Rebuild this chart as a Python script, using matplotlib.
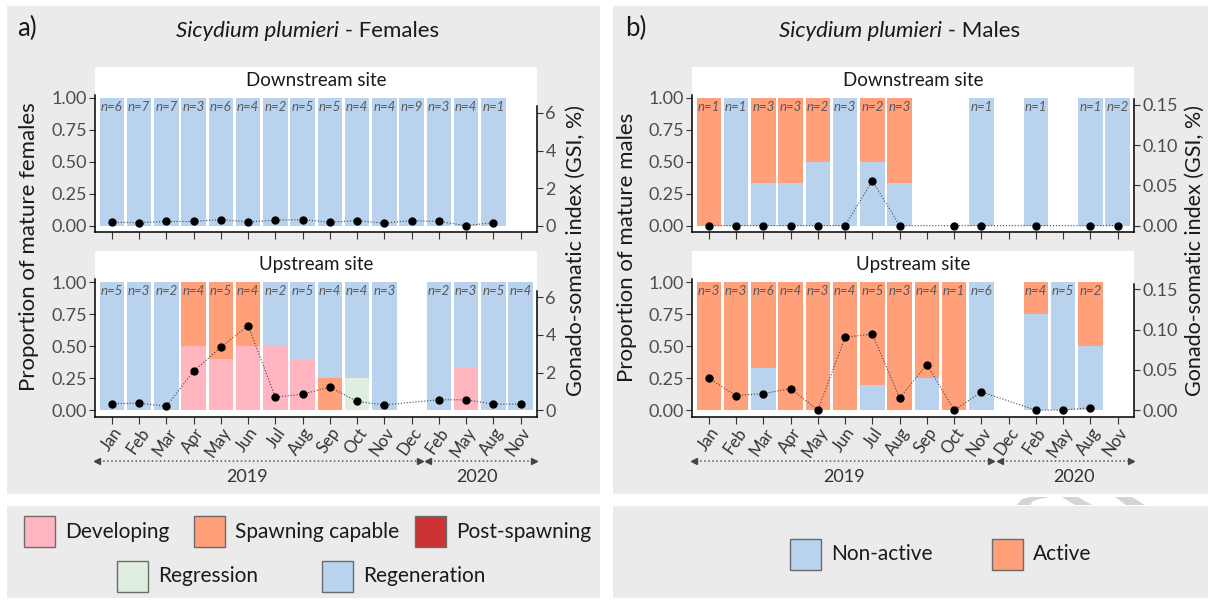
import numpy as np
import matplotlib.pyplot as plt
from matplotlib.patches import Rectangle, Polygon
from matplotlib.transforms import blended_transform_factory

plt.rcParams['font.family'] = ['Lato', 'DejaVu Sans']

nan = np.nan
months = ['Jan', 'Feb', 'Mar', 'Apr', 'May', 'Jun', 'Jul', 'Aug', 'Sep', 'Oct', 'Nov', 'Dec',
          'Feb', 'May', 'Aug', 'Nov']

# females, stages stacked bottom -> top
stages = ['Developing', 'Spawning capable', 'Post-spawning', 'Regression', 'Regeneration']
stage_colors = ['#FFB6C1', '#FFA07A', '#CD3333', '#E0EEE0', '#B9D3EE']

fd_dev = [0, 0, 0, 0, 0, 0, 0, 0, 0, 0, 0, 0, 0, 0, 0, 0]
fd_spawn = [0, 0, 0, 0, 0, 0, 0, 0, 0, 0, 0, 0, 0, 0, 0, 0]
fd_post = [0, 0, 0, 0, 0, 0, 0, 0, 0, 0, 0, 0, 0, 0, 0, 0]
fd_regr = [0, 0, 0, 0, 0, 0, 0, 0, 0, 0, 0, 0, 0, 0, 0, 0]
fd_regen = [1, 1, 1, 1, 1, 1, 1, 1, 1, 1, 1, 1, 1, 1, 1, 0]
fd_n = [6, 7, 7, 3, 6, 4, 2, 5, 5, 4, 4, 9, 3, 4, 1, nan]
fd_gsi = [0.18, 0.16, 0.22, 0.22, 0.32, 0.20, 0.29, 0.32, 0.18, 0.27, 0.13, 0.27, 0.22, 0.0, 0.16, nan]

fu_dev = [0, 0, 0, 0.5, 0.4, 0.5, 0.5, 0.4, 0, 0, 0, 0, 0, 0.333, 0, 0]
fu_spawn = [0, 0, 0, 0.5, 0.6, 0.5, 0, 0, 0.25, 0, 0, 0, 0, 0, 0, 0]
fu_post = [0, 0, 0, 0, 0, 0, 0, 0, 0, 0, 0, 0, 0, 0, 0, 0]
fu_regr = [0, 0, 0, 0, 0, 0, 0, 0, 0, 0.25, 0, 0, 0, 0, 0, 0]
fu_regen = [1, 1, 1, 0, 0, 0, 0.5, 0.6, 0.75, 0.75, 1, 0, 1, 0.667, 1, 1]
fu_n = [5, 3, 2, 4, 5, 4, 2, 5, 4, 4, 3, nan, 2, 3, 5, 4]
fu_gsi = [0.35, 0.37, 0.21, 2.07, 3.35, 4.5, 0.69, 0.85, 1.22, 0.46, 0.28, nan, 0.55, 0.55, 0.32, 0.32]

# males, bottom -> top
mstages = ['Non-active', 'Active']
mstage_colors = ['#B9D3EE', '#FFA07A']

md_non = [0, 1, 0.333, 0.333, 0.5, 1, 0.5, 0.333, 0, 0, 1, 0, 1, 0, 1, 1]
md_act = [1, 0, 0.667, 0.667, 0.5, 0, 0.5, 0.667, 0, 0, 0, 0, 0, 0, 0, 0]
md_n = [1, 1, 3, 3, 2, 3, 2, 3, nan, nan, 1, nan, 1, nan, 1, 2]
md_gsi = [0, 0, 0, 0, 0, 0, 0.0557, 0, nan, 0, 0, nan, 0, nan, 0, 0]

mu_non = [0, 0, 0.333, 0, 0, 0, 0.2, 0, 0.25, 0, 1, 0, 0.75, 1, 0.5, 0]
mu_act = [1, 1, 0.667, 1, 1, 1, 0.8, 1, 0.75, 1, 0, 0, 0.25, 0, 0.5, 0]
mu_n = [3, 3, 6, 4, 3, 4, 5, 3, 4, 1, 6, nan, 4, 5, 2, nan]
mu_gsi = [0.0393, 0.018, 0.0205, 0.0266, 0.0, 0.0906, 0.0943, 0.0152, 0.0566, 0.0, 0.0225, nan,
          0.0, 0.0, 0.003, nan]

W, H = 1215, 601
fig = plt.figure(figsize=(W / 100, H / 100), dpi=100)
GREY = '#EBEBEB'


def fx(px):
    return px / W


def fy(py):
    return 1 - py / H


def add_ax(x0, x1, y0, y1):
    return fig.add_axes([fx(x0), fy(y1), fx(x1 - x0), (y1 - y0) / H])


# grey boxes
for (x0, x1, y0, y1) in [(7, 600, 6, 494), (613, 1208, 6, 494), (7, 600, 506, 598), (613, 1208, 506, 598)]:
    fig.patches.append(Rectangle((fx(x0), fy(y1)), fx(x1 - x0), (y1 - y0) / H,
                                 transform=fig.transFigure, facecolor=GREY, edgecolor='none', zorder=-10))

# faint watermark pieces in the gap
for pts in [[(1017, 505), (1022, 499), (1030, 497), (1050, 497), (1040, 499), (1033, 501), (1030, 505)],
            [(1062, 497), (1078, 497), (1092, 505), (1075, 505)],
            [(1115, 497), (1132, 497), (1145, 505), (1126, 505)]]:
    fig.patches.append(Polygon([(fx(a), fy(b)) for a, b in pts], closed=True, transform=fig.transFigure,
                               facecolor='#D4D4D4', edgecolor='none', zorder=-9))

x = np.arange(len(months))
XLIM = (-0.62, 15.6)
TXT = '#1A1A1A'
TICK = '#4D4D4D'


def draw_panel(x0, x1, y0, y1, strip_label, fracs, colors, ns, gsi, factor, rticks, rfmt, rtop, show_x):
    ax = add_ax(x0, x1, y0, y1)
    bottom = np.zeros(len(months))
    for vals, c in zip(fracs, colors):
        vals = np.array(vals, dtype=float)
        ax.bar(x, vals, bottom=bottom, width=0.9, color=c, linewidth=0)
        bottom += vals
    for i, n in enumerate(ns):
        if not np.isnan(n):
            ax.text(i, 0.93, f'n={int(n)}', ha='center', va='center', fontsize=9.5,
                    style='italic', color='#5A5A5A')
    ax.set_xlim(*XLIM)
    ax.set_ylim(-0.05, 1.05)
    ax.set_yticks([0, 0.25, 0.5, 0.75, 1.0])
    ax.set_yticklabels(['0.00', '0.25', '0.50', '0.75', '1.00'])
    ax.set_xticks(x)
    if show_x:
        ax.set_xticklabels(months, rotation=55, ha='right', rotation_mode='anchor',
                           fontsize=12, color='#333333')
    else:
        ax.set_xticklabels([])
    ax.tick_params(axis='y', length=4, width=0.8, labelsize=13, labelcolor=TICK, color='#333333', pad=2)
    ax.tick_params(axis='x', length=5, width=0.8, color='#333333', pad=1)
    for s in ['top', 'right']:
        ax.spines[s].set_visible(False)
    for s in ['left', 'bottom']:
        ax.spines[s].set_linewidth(1.1)
        ax.spines[s].set_color('black')
    ax.spines['left'].set_bounds(-0.05, 1.025)

    ax2 = ax.twinx()
    ax2.set_ylim(-0.05 * factor, 1.05 * factor)
    g = np.array(gsi, dtype=float)
    m = ~np.isnan(g)
    ax2.plot(x[m], g[m], linestyle=':', color='#444444', linewidth=0.8)
    ax2.plot(x[m], g[m], 'o', color='black', markersize=5)
    ax2.set_yticks(rticks)
    ax2.set_yticklabels([rfmt.format(t) for t in rticks])
    ax2.tick_params(axis='y', length=4, width=0.8, labelsize=13, labelcolor=TICK, color='#333333', pad=2)
    for s in ['top', 'left', 'bottom']:
        ax2.spines[s].set_visible(False)
    ax2.spines['right'].set_linewidth(1.1)
    ax2.spines['right'].set_bounds(-0.05 * factor, rtop)

    st = add_ax(x0, x1, y0 - 25, y0)
    st.set_facecolor('white')
    st.set_xticks([])
    st.set_yticks([])
    for s in st.spines.values():
        s.set_visible(False)
    st.text(0.5, 0.45, strip_label, ha='center', va='center', fontsize=13.5, color=TXT, transform=st.transAxes)
    return ax


def year_arrows(ax, split_end, split_start):
    tr = blended_transform_factory(ax.transData, fig.transFigure)
    ya = fy(461)
    for a, b in [(-0.62, split_end), (split_start, 15.58)]:
        ax.plot([a, b], [ya, ya], transform=tr, linestyle=':', color='#555555', linewidth=1.1, clip_on=False)
        ax.plot([a + 0.08], [ya], marker='<', transform=tr, color='#444444', markersize=4, clip_on=False)
        ax.plot([b - 0.08], [ya], marker='>', transform=tr, color='#444444', markersize=4, clip_on=False)
    ax.text(4.95, fy(477), '2019', transform=tr, ha='center', va='center', fontsize=13, color='#333333')
    ax.text(13.4, fy(477), '2020', transform=tr, ha='center', va='center', fontsize=13, color='#333333')


# panel a: females
fem_fracs_d = [fd_dev, fd_spawn, fd_post, fd_regr, fd_regen]
fem_fracs_u = [fu_dev, fu_spawn, fu_post, fu_regr, fu_regen]
draw_panel(95, 537, 91.6, 232, 'Downstream site', fem_fracs_d, stage_colors, fd_n, fd_gsi,
           6.8, [0, 2, 4, 6], '{:g}', 6.35, False)
axa = draw_panel(95, 537, 276, 416.5, 'Upstream site', fem_fracs_u, stage_colors, fu_n, fu_gsi,
                 6.8, [0, 2, 4, 6], '{:g}', 6.35, True)
year_arrows(axa, 11.37, 11.53)

# panel b: males
draw_panel(692, 1134, 91.6, 232, 'Downstream site', [md_non, md_act], mstage_colors, md_n, md_gsi,
           0.1585, [0, 0.05, 0.10, 0.15], '{:.2f}', 0.157, False)
axb = draw_panel(692, 1134, 276, 416.5, 'Upstream site', [mu_non, mu_act], mstage_colors, mu_n, mu_gsi,
                 0.1585, [0, 0.05, 0.10, 0.15], '{:.2f}', 0.157, True)
year_arrows(axb, 10.43, 10.6)

# axis titles
fig.text(fx(29), fy(247), 'Proportion of mature females', rotation=90, ha='center', va='center',
         fontsize=16, color=TXT)
fig.text(fx(576), fy(250), 'Gonado-somatic index (GSI, %)', rotation=90, ha='center', va='center',
         fontsize=15.5, color=TXT)
fig.text(fx(627), fy(247), 'Proportion of mature males', rotation=90, ha='center', va='center',
         fontsize=16, color=TXT)
fig.text(fx(1195), fy(250), 'Gonado-somatic index (GSI, %)', rotation=90, ha='center', va='center',
         fontsize=15.5, color=TXT)

# panel letters and titles
fig.text(fx(17), fy(28), 'a)', ha='left', va='center', fontsize=18.5, color=TXT)
fig.text(fx(625), fy(28), 'b)', ha='left', va='center', fontsize=18.5, color=TXT)

fig.canvas.draw()
renderer = fig.canvas.get_renderer()
for cx, rest in [(308, ' - Females'), (900, ' - Males')]:
    t1 = fig.text(0, fy(31), 'Sicydium plumieri', style='italic', ha='left', va='center', fontsize=16, color=TXT)
    t2 = fig.text(0, fy(31), rest, ha='left', va='center', fontsize=16, color=TXT)
    w1 = t1.get_window_extent(renderer).width
    w2 = t2.get_window_extent(renderer).width
    start = cx - (w1 + w2) / 2
    t1.set_x(fx(start))
    t2.set_x(fx(start + w1))


# legends
def swatch(x0, y0, color, label, size=31):
    fig.patches.append(Rectangle((fx(x0), fy(y0 + size)), fx(size), size / H, transform=fig.transFigure,
                                 facecolor=color, edgecolor='#6B6B6B', linewidth=1.0, zorder=2))
    fig.text(fx(x0 + size + 10), fy(y0 + size / 2), label, ha='left', va='center', fontsize=15, color=TXT)


swatch(24, 516, stage_colors[0], stages[0])
swatch(194, 516, stage_colors[1], stages[1])
swatch(415, 516, stage_colors[2], stages[2])
swatch(117, 561, stage_colors[3], stages[3])
swatch(322, 561, stage_colors[4], stages[4])
swatch(790, 539, mstage_colors[0], mstages[0])
swatch(992, 539, mstage_colors[1], mstages[1])

fig.savefig('out.png', dpi=100, facecolor='white')
